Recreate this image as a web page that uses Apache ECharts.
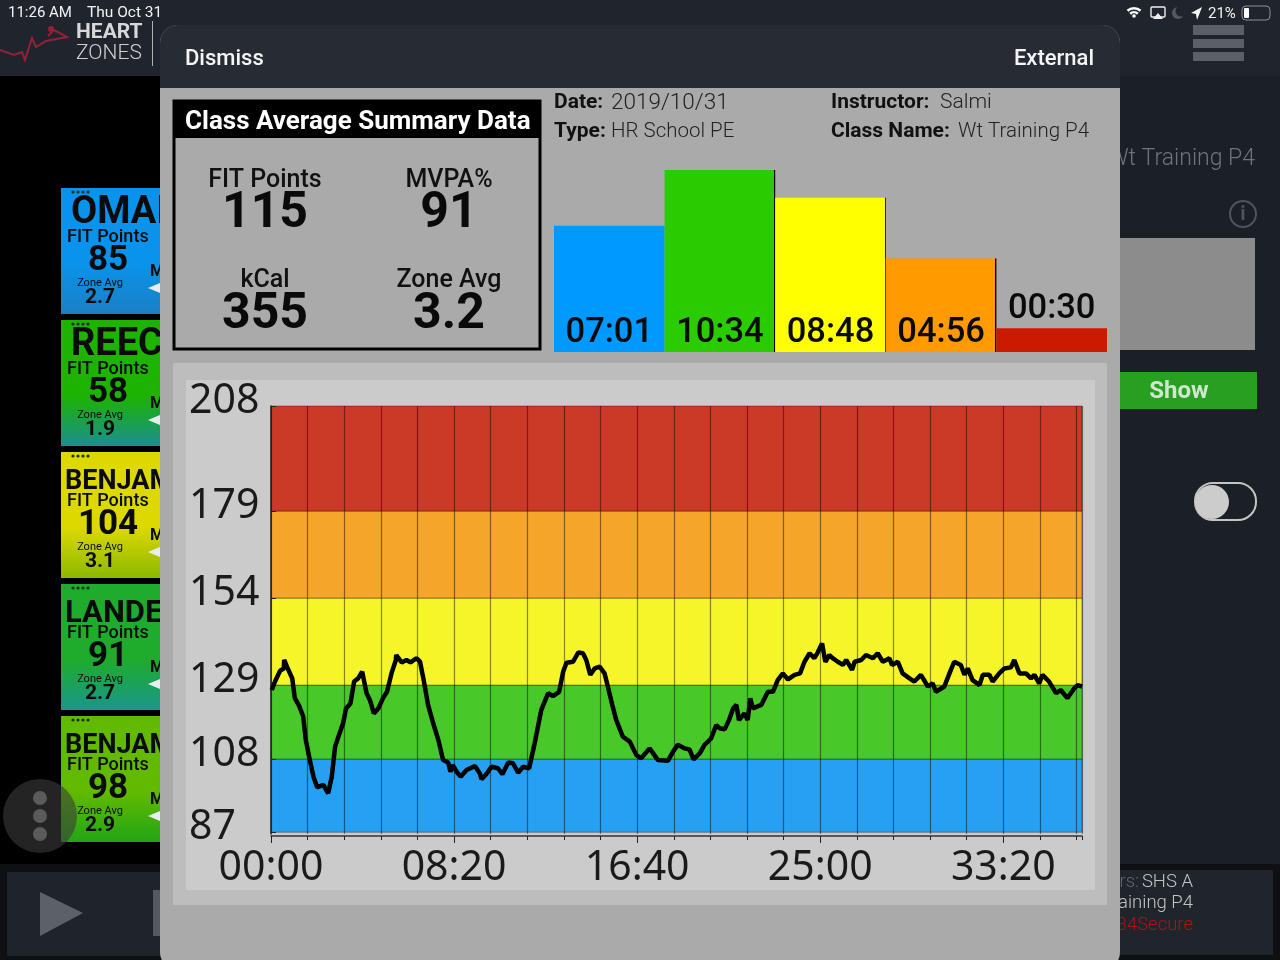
<!DOCTYPE html>
<html>
<head>
<meta charset="utf-8">
<title>Class Average Summary Data</title>
<style>html,body{margin:0;padding:0;background:#000}#main{width:1280px;height:960px}</style>
<script src="https://cdn.jsdelivr.net/npm/echarts@6/dist/echarts.min.js"></script>
</head>
<body>
<div id="main"></div>
<script>
// time spent per zone, seconds
var zoneSeconds = [421, 634, 528, 296, 30];
// bars are never drawn shorter than this
var zoneFloor = [61, 61, 61, 61, 61];
var barColors = ['#0099ff', '#2acb00', '#ffff00', '#ff9a00', '#cc1a00'];

// heart rate zones on the chart
var zoneEdges = [87.5, 108.2, 129.1, 153.7, 178.3, 208];
var zoneTicks = ['87', '108', '129', '154', '179', '208'];
var zoneColors = ['#26a0f2', '#48c829', '#f5f52a', '#f5a52a', '#cb3a27'];
var majorTicks = [0, 500, 1000, 1500, 2000];

// heart rate trace
var hrTimes = [2, 11, 25, 35, 36, 47, 58, 65, 77, 88, 95, 105, 116, 126, 143, 156, 166, 175, 184, 197, 205, 217, 227, 238, 249, 261, 270, 281, 293, 306, 317, 329, 341, 342, 357, 370, 381, 397, 407, 417, 429, 443, 457, 470, 484, 490, 496, 507, 518, 534, 557, 570, 575, 588, 602, 620, 632, 648, 661, 675, 688, 705, 720, 738, 757, 770, 787, 798, 807, 825, 839, 852, 861, 872, 884, 898, 911, 920, 932, 943, 961, 980, 998, 1011, 1034, 1057, 1084, 1089, 1098, 1111, 1130, 1143, 1154, 1171, 1184, 1202, 1216, 1225, 1239, 1251, 1262, 1271, 1278, 1293, 1302, 1309, 1316, 1339, 1357, 1371, 1384, 1398, 1412, 1430, 1445, 1457, 1471, 1484, 1493, 1505, 1514, 1525, 1534, 1548, 1562, 1571, 1587, 1594, 1612, 1625, 1644, 1657, 1671, 1689, 1696, 1712, 1725, 1744, 1757, 1775, 1794, 1807, 1816, 1839, 1853, 1866, 1884, 1894, 1903, 1916, 1935, 1944, 1962, 1971, 1989, 2003, 2021, 2030, 2044, 2062, 2076, 2085, 2098, 2107, 2125, 2144, 2157, 2175, 2194, 2203, 2215];
var hrValues = [127.7, 130.1, 133.2, 133.8, 136.2, 133.5, 131.0, 125.4, 123.2, 120.2, 113.6, 108.4, 103.2, 100.2, 100.9, 98.5, 103.2, 111.7, 114.5, 118.3, 122.5, 123.9, 130.1, 131.0, 132.9, 126.8, 124.9, 121.1, 122.5, 125.4, 127.2, 132.4, 136.2, 137.6, 135.5, 136.2, 135.5, 136.7, 135.7, 130.5, 123.5, 118.3, 113.6, 107.9, 107.2, 104.6, 106.5, 104.6, 103.2, 105.1, 106.2, 104.2, 102.5, 103.9, 106.0, 105.6, 103.9, 107.2, 107.0, 104.3, 106.0, 105.6, 112.6, 122.0, 126.8, 126.0, 127.2, 132.9, 135.4, 135.7, 138.3, 138.1, 136.2, 132.0, 133.8, 134.3, 132.4, 128.7, 123.5, 119.2, 114.5, 113.1, 109.3, 108.4, 111.2, 107.9, 107.7, 107.4, 110.3, 112.2, 111.2, 110.9, 108.1, 109.8, 112.2, 114.0, 117.8, 116.9, 116.6, 119.2, 122.5, 123.5, 119.2, 121.1, 119.2, 125.4, 122.5, 123.5, 127.2, 127.2, 130.5, 132.4, 130.7, 132.0, 132.4, 135.7, 138.1, 136.7, 138.3, 140.9, 135.7, 137.6, 136.7, 135.7, 134.8, 136.2, 133.4, 135.7, 136.2, 137.6, 136.7, 138.1, 135.7, 136.7, 134.8, 135.7, 132.4, 131.0, 130.1, 132.0, 128.7, 129.6, 127.2, 128.7, 132.4, 135.7, 134.8, 132.0, 133.8, 130.5, 129.1, 132.0, 132.0, 130.1, 132.4, 133.8, 134.1, 136.2, 132.4, 132.4, 131.0, 132.0, 129.6, 132.0, 130.1, 126.8, 127.7, 125.4, 128.2, 129.1, 128.7];

// student cards on the left, cut off by the modal
var cardNames = ['OMAI', 'REEC', 'BENJAM', 'LANDE', 'BENJAM'];
var cardPoints = ['85', '58', '104', '91', '98'];
var cardAvgs = ['2.7', '1.9', '3.1', '2.7', '2.9'];
var cardTops = ['#0a93ec', '#1db300', '#dcd800', '#1fab2c', '#62ba00'];
var cardBottoms = ['#1a80c4', '#1a8f90', '#8cb800', '#1a978c', '#22a516'];

var UI = 'Roboto, "Noto Sans", sans-serif';
var NUM = '"Noto Sans", sans-serif';

function mmss(s) {
    var m = Math.floor(s / 60), r = s % 60;
    return (m < 10 ? '0' : '') + m + ':' + (r < 10 ? '0' : '') + r;
}
function txt(x, y, text, size, color, weight, align, z) {
    return {type: 'text', x: x, y: y + 2, z: z || 1, silent: true, style: {
        text: text, fontFamily: UI, fontSize: size, fill: color, fontWeight: weight || 400,
        textAlign: align || 'left', textVerticalAlign: 'middle'}};
}
function box(x, y, w, h, color, r, z) {
    return {type: 'rect', z: z || 1, silent: true, shape: {x: x, y: y, width: w, height: h, r: r || 0}, style: {fill: color}};
}
// thin black edge on the right of the middle bars
function barFill(i) {
    if (i === 0 || i === 4) return barColors[i];
    return new echarts.graphic.LinearGradient(0, 0, 1, 0, [
        {offset: 0, color: barColors[i]}, {offset: 0.991, color: barColors[i]},
        {offset: 0.991, color: '#000'}, {offset: 1, color: '#000'}]);
}

// ---- page behind the modal ----
var chrome = [
    box(0, 0, 1280, 960, '#1b1f26'),
    box(0, 0, 1280, 76, '#20252d'),
    box(0, 76, 160, 790, '#000000'),
    box(0, 864, 1280, 96, '#0e1014'),
    box(7, 872, 160, 84, '#1f242b'),
    box(1100, 870, 173, 85, '#20252c'),
    {type: 'polygon', z: 1, shape: {points: [[40, 892], [83, 913], [40, 936]]}, style: {fill: '#5c6068'}},
    box(153, 890, 10, 46, '#555a60'),
    {type: 'polyline', z: 1, shape: {points: [[0, 50], [14, 55], [22, 52], [25, 60], [32, 38], [36, 47], [46, 41], [67, 37], [54, 30], [48, 36]]}, style: {stroke: '#94203a', fill: null, lineWidth: 2}},
    {type: 'circle', z: 1, shape: {cx: 51, cy: 29, r: 3}, style: {fill: '#94203a'}},
    txt(76, 31, 'HEART', 21, '#d8d8d8', 700),
    txt(76, 52, 'ZONES', 21, '#cfcfcf', 300),
    box(152, 21, 1, 45, '#b0b0b0'),
    txt(8, 11, '11:26 AM', 15, '#f2f2f2'),
    txt(87, 11, 'Thu Oct 31', 15.5, '#f2f2f2'),
    txt(1208, 12, '21%', 15, '#f2f2f2'),
    {type: 'rect', z: 1, shape: {x: 1242, y: 6, width: 28, height: 14, r: 4}, style: {fill: 'none', stroke: '#8a8f96', lineWidth: 1}},
    box(1244, 8, 5, 10, '#ffffff', 1),
    {type: 'sector', z: 1, shape: {cx: 1134, cy: 18, r: 11, r0: 8.5, startAngle: -2.3, endAngle: -0.84}, style: {fill: '#fff'}},
    {type: 'sector', z: 1, shape: {cx: 1134, cy: 18, r: 7, r0: 4.5, startAngle: -2.3, endAngle: -0.84}, style: {fill: '#fff'}},
    {type: 'circle', z: 1, shape: {cx: 1134, cy: 16, r: 1.8}, style: {fill: '#fff'}},
    {type: 'rect', z: 1, shape: {x: 1151, y: 7, width: 14, height: 10, r: 1}, style: {fill: 'none', stroke: '#eee', lineWidth: 1.4}},
    {type: 'polygon', z: 1, shape: {points: [[1153, 19], [1158, 13], [1163, 19]]}, style: {fill: '#eee'}},
    {type: 'circle', z: 1, shape: {cx: 1178, cy: 13, r: 6}, style: {fill: '#555a62'}},
    {type: 'circle', z: 1, shape: {cx: 1181, cy: 11, r: 5.5}, style: {fill: '#20252d'}},
    {type: 'polygon', z: 1, shape: {points: [[1191, 13], [1202, 7], [1197, 20], [1196, 14]]}, style: {fill: '#fff'}},
    box(1193, 25, 51, 10, '#5a5f68'),
    box(1193, 39, 51, 9, '#5a5f68'),
    box(1193, 52, 51, 9, '#5a5f68'),
    txt(1255, 157, 'Wt Training P4', 23, '#6f747a', 300, 'right'),
    {type: 'circle', z: 1, shape: {cx: 1243, cy: 214, r: 13}, style: {fill: 'none', stroke: '#50555c', lineWidth: 2}},
    txt(1243, 213, 'i', 20, '#50555c', 700, 'center'),
    box(1110, 238, 145, 112, '#8c8c8c'),
    box(1110, 372, 147, 37, '#27a022'),
    txt(1179, 390, 'Show', 24, '#cfe6cf', 700, 'center'),
    {type: 'rect', z: 1, shape: {x: 1195, y: 483, width: 61, height: 37, r: 18}, style: {fill: '#1b1f26', stroke: '#c4c4c4', lineWidth: 2}},
    {type: 'circle', z: 1, shape: {cx: 1212, cy: 502, r: 17}, style: {fill: '#cccccc'}},
    txt(1139, 880, 'rs:', 18.5, '#5f646b', 300, 'right'),
    txt(1193, 880, 'SHS A', 18.5, '#c0c4c8', 300, 'right'),
    txt(1193, 901, 'aining P4', 18.5, '#c0c4c8', 300, 'right'),
    txt(1193, 923, '34Secure', 18.5, '#a8141c', 300, 'right')
];

// ---- student cards ----
cardNames.forEach(function (name, i) {
    var top = 188 + 132 * i;
    var wide = name.length > 4;
    chrome.push({type: 'rect', z: 1, shape: {x: 61, y: top, width: 110, height: 126}, style: {fill: new echarts.graphic.LinearGradient(0, 0, 0, 1, [
        {offset: 0, color: cardTops[i]}, {offset: 0.6, color: cardTops[i]}, {offset: 1, color: cardBottoms[i]}])}});
    [73, 78, 83, 88].forEach(function (x) {
        chrome.push({type: 'circle', z: 1, shape: {cx: x, cy: top + 4, r: 1.6}, style: {fill: '#14321a'}});
    });
    chrome.push(txt(wide ? 65 : 71, top + (wide ? 28 : 23), name, name.length > 5 ? 27 : (wide ? 31 : 38), '#0b0b0b', 700));
    chrome.push(txt(67, top + 47, 'FIT Points', 18, '#0b0b0b', 500));
    chrome.push(txt(108, top + 71, cardPoints[i], 35, '#0b0b0b', 700, 'center'));
    chrome.push(txt(100, top + 93, 'Zone Avg', 11, '#0b0b0b', 400, 'center'));
    chrome.push(txt(100, top + 108, cardAvgs[i], 21, '#0b0b0b', 700, 'center'));
    chrome.push(txt(150, top + 82, 'M', 16, '#0b0b0b', 700));
    chrome.push({type: 'polygon', z: 1, shape: {points: [[148, top + 100], [160, top + 95], [160, top + 105]]}, style: {fill: '#e8eef0'}});
});
chrome.push({type: 'circle', z: 1, shape: {cx: 40, cy: 816, r: 37}, style: {fill: 'rgba(60,60,60,0.6)'}});
[798, 816, 834].forEach(function (y) {
    chrome.push({type: 'circle', z: 1, shape: {cx: 40, cy: y, r: 7}, style: {fill: '#5b5b5b'}});
});

// ---- modal ----
chrome.push(box(160, 25, 960, 945, '#aaaaaa', 18));
chrome.push({type: 'rect', z: 1, shape: {x: 160, y: 25, width: 960, height: 63, r: [18, 18, 0, 0]}, style: {fill: '#262b34'}});
chrome.push(txt(185, 57, 'Dismiss', 22, '#f5f5f5', 500));
chrome.push(txt(1094, 57, 'External', 22, '#f5f5f5', 500, 'right'));
chrome.push({type: 'rect', z: 1, shape: {x: 174, y: 101, width: 366, height: 248}, style: {fill: '#aaaaaa', stroke: '#000', lineWidth: 3}});
chrome.push(box(173, 100, 368, 38, '#000000'));
chrome.push(txt(185, 120, 'Class Average Summary Data', 26, '#ffffff', 700));
chrome.push(txt(265, 179, 'FIT Points', 25, '#111', 500, 'center'));
chrome.push(txt(265, 212, '115', 50, '#0a0a0a', 700, 'center'));
chrome.push(txt(449, 179, 'MVPA%', 25, '#111', 500, 'center'));
chrome.push(txt(449, 212, '91', 50, '#0a0a0a', 700, 'center'));
chrome.push(txt(265, 279, 'kCal', 25, '#111', 500, 'center'));
chrome.push(txt(265, 313, '355', 50, '#0a0a0a', 700, 'center'));
chrome.push(txt(449, 279, 'Zone Avg', 25, '#111', 500, 'center'));
chrome.push(txt(449, 313, '3.2', 50, '#0a0a0a', 700, 'center'));
chrome.push(txt(554, 101, 'Date:', 21, '#111', 700));
chrome.push(txt(611, 101, '2019/10/31', 22.5, '#222', 300));
chrome.push(txt(554, 130, 'Type:', 21, '#111', 700));
chrome.push(txt(611, 130, 'HR School PE', 20.5, '#222', 300));
chrome.push(txt(831, 101, 'Instructor:', 21, '#111', 700));
chrome.push(txt(940, 101, 'Salmi', 21, '#222', 300));
chrome.push(txt(831, 130, 'Class Name:', 21, '#111', 700));
chrome.push(txt(958, 130, 'Wt Training P4', 20.5, '#222', 300));
chrome.push(box(173, 363, 934, 542, '#bdbdbd'));
chrome.push(box(186, 380, 909, 510, '#cbcbcb'));

var chart = echarts.init(document.getElementById('main'), null, {renderer: 'canvas'});
chart.setOption({
    animation: false,
    graphic: {elements: chrome},
    grid: [
        {left: 554, top: 170, width: 553, height: 182},
        {left: 271, top: 406, width: 811, height: 428}
    ],
    xAxis: [
        {gridIndex: 0, type: 'category', data: zoneSeconds.map(mmss), show: false},
        {gridIndex: 1, type: 'value', position: 'bottom', min: 0, max: 2215, interval: 100, offset: 2, z: 3,
            axisLine: {show: true, onZero: false, lineStyle: {color: '#333', width: 1.5}},
            axisTick: {show: true, length: 4, lineStyle: {color: '#222'}},
            axisLabel: {show: false},
            splitLine: {show: true, lineStyle: {color: 'rgba(0,0,0,0.45)', width: 1.2}}
        },
        {gridIndex: 1, type: 'value', position: 'bottom', min: 0, max: 2215, interval: 500, offset: 2, z: 3,
            axisLine: {show: false},
            axisTick: {show: true, length: 7, customValues: majorTicks, lineStyle: {color: '#222'}},
            axisLabel: {show: true, customValues: majorTicks, formatter: mmss, margin: 12,
                fontFamily: NUM, fontSize: 41, color: '#1a1a1a'},
            splitLine: {show: false}
        }
    ],
    yAxis: [
        {gridIndex: 0, type: 'value', min: 0, max: 695, show: false},
        {gridIndex: 1, type: 'value', min: 87, max: 208, z: 3,
            axisLine: {show: true, onZero: false, lineStyle: {color: '#222', width: 1.5}},
            axisTick: {show: true, inside: true, length: 5, customValues: zoneEdges, lineStyle: {color: '#222'}},
            axisLabel: {show: true, customValues: zoneEdges, inside: false, align: 'left', margin: 82,
                fontFamily: NUM, fontSize: 41, color: '#1a1a1a', verticalAlign: 'bottom', lineHeight: 9,
                formatter: function (v) { return zoneTicks[zoneEdges.indexOf(v)]; }},
            splitLine: {show: false}
        }
    ],
    series: [
        {name: 'floor', type: 'bar', stack: 'zone', xAxisIndex: 0, yAxisIndex: 0, barCategoryGap: 0,
            data: zoneFloor.map(function (v, i) {
                return {value: v, itemStyle: {color: barFill(i)},
                    label: {distance: i === 4 ? 25 : 1}};
            }),
            label: {show: true, position: 'insideBottom', fontFamily: UI, fontSize: 34.5, fontWeight: 500, color: '#0a0a0a',
                formatter: function (p) { return mmss(zoneSeconds[p.dataIndex]); }}
        },
        {name: 'time', type: 'bar', stack: 'zone', xAxisIndex: 0, yAxisIndex: 0, barCategoryGap: 0,
            data: zoneSeconds.map(function (v, i) {
                return {value: v, itemStyle: {color: barFill(i)}};
            })
        },
        {name: 'heart rate', type: 'line', xAxisIndex: 1, yAxisIndex: 1, z: 5, showSymbol: false,
            data: hrTimes.map(function (t, i) { return [t, hrValues[i]]; }),
            lineStyle: {color: '#000', width: 4.5, join: 'bevel'},
            markArea: {silent: true, z: 1, itemStyle: {borderWidth: 1, borderColor: 'rgba(0,0,0,0.35)'},
                data: zoneColors.map(function (c, i) {
                    return [{yAxis: zoneEdges[i], itemStyle: {color: c, opacity: 1}}, {yAxis: zoneEdges[i + 1]}];
                })
            }
        }
    ]
});
</script>
</body>
</html>
